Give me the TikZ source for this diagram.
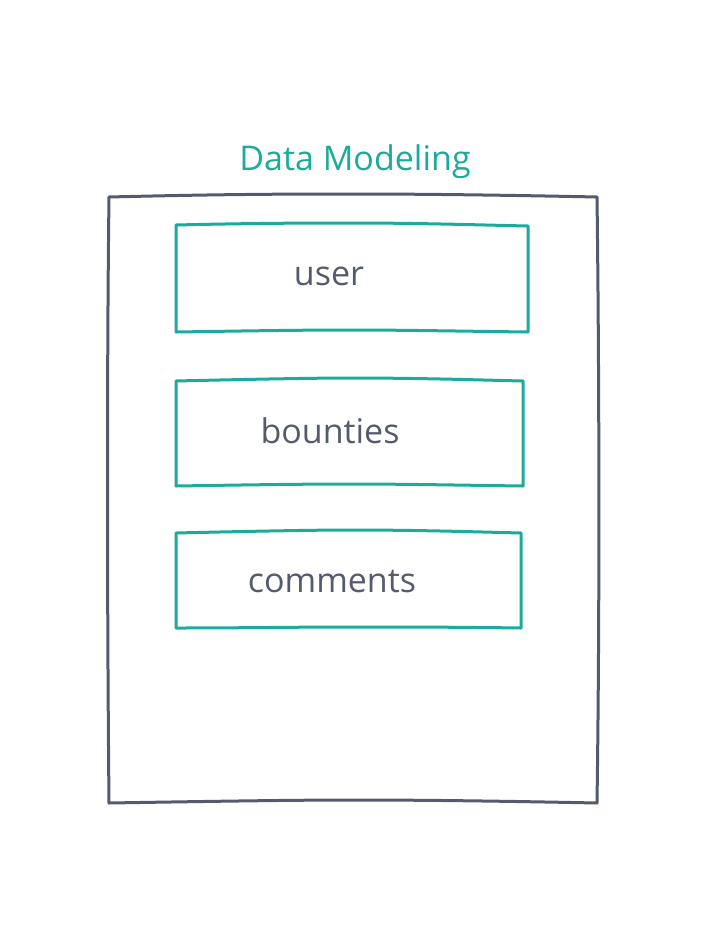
\documentclass[tikz,border=0pt]{standalone}
\usepackage{fontspec}
\setmainfont[Ligatures={NoCommon,NoRequired,NoContextual}]{Open Sans}
\definecolor{slate}{HTML}{555B6E}
\definecolor{teal}{HTML}{1AAB9B}
\begin{document}
\begin{tikzpicture}[x=1pt,y=-1pt,
  outer/.style={draw=slate,line width=3pt,line join=round},
  inner/.style={draw=teal,line width=3pt,line join=round},
  lbl/.style={text=slate,font=\fontsize{34}{40}\selectfont,inner sep=0pt},
  ttl/.style={text=teal,font=\fontsize{34}{40}\selectfont,inner sep=0pt}]
\useasboundingbox (0,0) rectangle (706,945);
% outer container
\draw[outer] (109,197) .. controls (230,194) and (300,194) .. (355,194)
  .. controls (420,194) and (500,195) .. (597,197)
  .. controls (599,350) and (600,600) .. (597,803)
  .. controls (500,801) and (420,800) .. (355,800)
  .. controls (300,800) and (230,801) .. (109,803)
  .. controls (107,600) and (107,350) .. cycle;
\node[ttl] (title) at (355,162) {Data Modeling};
% user
\draw[inner] (176,225) .. controls (260,223) and (320,223) .. (350,223)
  .. controls (420,223) and (480,225) .. (528,226)
  -- (528,332)
  .. controls (450,331) and (400,330) .. (350,330)
  .. controls (300,330) and (240,331) .. (176,332) -- cycle;
\node[lbl] (user) at (329,276) {user};
% bounties
\draw[inner] (176,381) .. controls (260,379) and (320,378) .. (350,378)
  .. controls (420,378) and (480,380) .. (523,381)
  -- (523,486)
  .. controls (450,485) and (400,484) .. (350,484)
  .. controls (300,484) and (240,485) .. (176,486) -- cycle;
\node[lbl] (bounties) at (330,431) {bounties};
% comments
\draw[inner] (176,533) .. controls (260,531) and (320,530) .. (350,530)
  .. controls (420,530) and (480,532) .. (521,533)
  -- (521,628)
  .. controls (450,627) and (400,627) .. (350,627)
  .. controls (300,627) and (240,628) .. (176,628) -- cycle;
\node[lbl] (comments) at (332,581) {comments};
\end{tikzpicture}
\end{document}
